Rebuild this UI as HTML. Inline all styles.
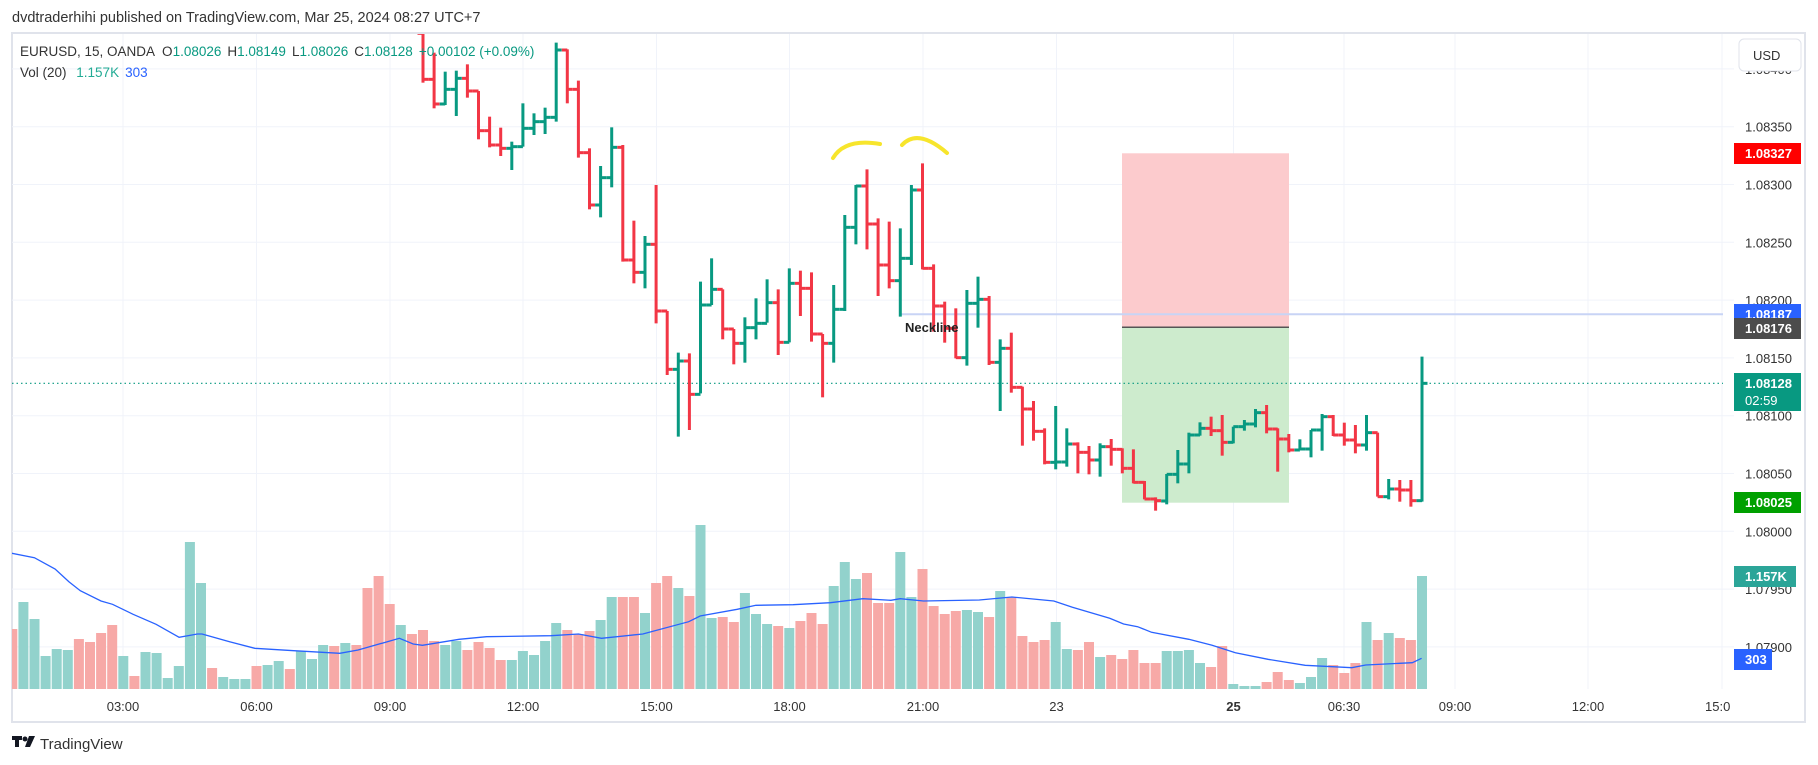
<!DOCTYPE html>
<html><head><meta charset="utf-8"><style>
html,body{margin:0;padding:0;background:#fff;width:1818px;height:765px;overflow:hidden;font-family:"Liberation Sans",sans-serif}
svg{display:block}
</style></head><body>
<svg id="s" width="1818" height="765" xmlns="http://www.w3.org/2000/svg" font-family="Liberation Sans, sans-serif">
<defs><clipPath id="c"><rect x="12" y="34" width="1711" height="655"/></clipPath></defs>
<rect x="12" y="33" width="1793" height="689" fill="none" stroke="#e0e3eb" stroke-width="2"/>
<text x="12" y="22" font-size="14.5" fill="#333">dvdtraderhihi published on TradingView.com, Mar 25, 2024 08:27 UTC+7</text>
<g id="grid"></g>
<g id="vol" clip-path="url(#c)"></g>
<g clip-path="url(#c)">
<rect x="1122" y="153.3" width="167" height="174" fill="#fccbcd"/>
<rect x="1122" y="327.3" width="167" height="175.4" fill="#cdebcd"/>
<line x1="1122" y1="327.3" x2="1289" y2="327.3" stroke="#555" stroke-width="1.5"/>
<line x1="900" y1="314.3" x2="1734" y2="314.3" stroke="#c8d4f5" stroke-width="2"/>
<line x1="12" y1="383.3" x2="1734" y2="383.3" stroke="#089981" stroke-width="1.2" stroke-dasharray="1.5 3"/>
<path d="M833 158 Q845 138 880 144" fill="none" stroke="#f7e52c" stroke-width="4" stroke-linecap="round"/>
<path d="M902 145 Q918 128 947 153" fill="none" stroke="#f7e52c" stroke-width="4" stroke-linecap="round"/>
<g id="bars"></g>
<text x="905" y="332" font-size="13" fill="#222" font-weight="bold">Neckline</text>
<polyline id="ma" fill="none" stroke="#2962ff" stroke-width="1.3"/>
</g>
<g id="axis" font-size="13" fill="#333"></g>
<g font-size="13" fill="#fff" font-weight="bold">
<rect x="1734" y="143" width="67" height="21" fill="#ff0000"/><text x="1745" y="158">1.08327</text>
<rect x="1734" y="304" width="67" height="21" fill="#2962ff"/><text x="1745" y="319">1.08187</text>
<rect x="1734" y="318" width="67" height="21" fill="#4c4c4c"/><text x="1745" y="333">1.08176</text>
<rect x="1734" y="373" width="67" height="38" fill="#089981"/><text x="1745" y="388">1.08128</text><text x="1745" y="405" font-weight="normal">02:59</text>
<rect x="1734" y="492" width="67" height="21" fill="#00a000"/><text x="1745" y="507">1.08025</text>
<rect x="1734" y="566" width="62" height="21" fill="#2ba598"/><text x="1745" y="581">1.157K</text>
<rect x="1734" y="649" width="38" height="21" fill="#2962ff"/><text x="1745" y="664">303</text>
</g>
<rect x="1739" y="39" width="62" height="32" rx="5" fill="#fff" stroke="#e0e3eb"/>
<text x="1753" y="60" font-size="13" fill="#333">USD</text>
<text x="20" y="56" font-size="13.5" fill="#333">EURUSD, 15, OANDA <tspan dx="4">O</tspan><tspan fill="#089981">1.08026</tspan><tspan dx="6">H</tspan><tspan fill="#089981">1.08149</tspan><tspan dx="6">L</tspan><tspan fill="#089981">1.08026</tspan><tspan dx="6">C</tspan><tspan fill="#089981">1.08128</tspan><tspan dx="6" fill="#089981">+0.00102 (+0.09%)</tspan></text>
<text x="20" y="77" font-size="13.5" fill="#333">Vol (20) <tspan dx="6" fill="#22ab94">1.157K</tspan><tspan dx="6" fill="#2962ff">303</tspan></text>
<g transform="translate(12,736)"><rect x="0" y="0" width="10" height="4" fill="#131722"/><rect x="3" y="0" width="4" height="11" fill="#131722"/><circle cx="13" cy="3" r="2.5" fill="#131722"/><path d="M17 0 L23 0 L18 11 L13 11 Z" fill="#131722"/></g>
<text x="40" y="749" font-size="15" fill="#333">TradingView</text>
</svg>
<script>
var NS="http://www.w3.org/2000/svg";
function el(p,t,a){var e=document.createElementNS(NS,t);for(var k in a)e.setAttribute(k,a[k]);p.appendChild(e);return e;}
function Y(p){return 126.7+(1.0835-p)*115600;}
var grid=document.getElementById('grid'),axis=document.getElementById('axis');
var prices=[1.0840,1.0835,1.0830,1.0825,1.0820,1.0815,1.0810,1.0805,1.0800,1.0795,1.0790];
prices.forEach(function(p){var y=Y(p);el(grid,'line',{x1:12,x2:1734,y1:y,y2:y,stroke:'#f0f3fa','stroke-width':1});
var t=el(axis,'text',{x:1745,y:y+5});t.textContent=p.toFixed(5);});
var vx=[[123,'03:00'],[256.5,'06:00'],[390,'09:00'],[523,'12:00'],[656.5,'15:00'],[789.5,'18:00'],[923,'21:00'],[1056.5,'23'],[1233.5,'25'],[1344,'06:30'],[1455,'09:00'],[1588,'12:00'],[1722,'15:00']];
vx.forEach(function(v){el(grid,'line',{x1:v[0],x2:v[0],y1:34,y2:689,stroke:'#f0f3fa','stroke-width':1});
var t=el(axis,'text',{x:v[0],y:711,'text-anchor':v[1]=='15:00'&&v[0]>1700?'start':'middle'});if(v[0]>1700){t.setAttribute('x',1705);t.textContent='15:0';}else t.textContent=v[1];if(v[1]=='25')t.setAttribute('font-weight','bold');});
function cx(i){return 12.3+i*11.1;}
var v6=[['r',327],['g',246],['g',297],['g',408],['g',387],['g',390],['r',357],['r',366],['r',339],['r',315],['g',408],['r',468],['g',396],['g',399],['g',474],['g',438],['g',66],['g',189],['r',444],['g',471],['g',477],['g',477],['r',438],['g',435],['g',423],['r',447],['g',393],['g',417],['g',375],['r',378],['g',369],['r',375],['r',204],['r',168],['r',252],['g',315],['r',342],['r',330],['r',363],['g',375],['g',363],['r',390],['r',366],['r',384],['r',420],['g',420],['g',393],['g',405],['g',363],['g',309],['r',330],['r',342],['r',333],['g',300],['g',231],['r',231],['r',231],['g',279],['r',189],['r',168],['g',204],['r',228],['g',15]];
var v7="g294 r291 r306 g219 g282 g312 r318 g324 r303 r279 r312 g198 g126 g177 r159 r249 r249 g96 g231 r147 r258 r282 r273 g270 g276 r291 g213 r231 r348 r366 r360 g306 g387 r390 r366 g411 r405 r417 r390 r429 r429 g393 g393 g390 g429 r441 r378 g492 g498 g498 r486 r456 r480 g489 g471 g414 r435 r459 r429 g306 r360 g339 r354 r360 g168".split(' ').map(function(s){return [s[0],+s.slice(1)];});
var vol=v6.concat(v7),vg=document.getElementById('vol');
vol.forEach(function(v,i){var top=520+v[1]/3;el(vg,'rect',{x:cx(i)-5,y:top,width:10,height:689-top,fill:v[0]=='g'?'#92d2cc':'#f7a9a7'});});
var m6=[[26,100],[75,113],[120,147],[150,185],[175,212],[220,243],[245,253],[290,283],[340,313],[390,352],[430,342],[440,342],[500,365],[555,385],[640,392],[740,400],[780,390],[870,355],[900,372],[920,376],[1000,358],[1060,350],[1200,347],[1260,342],[1310,355],[1400,342],[1500,305],[1525,288]];
var m7=[[0,288],[80,268],[120,256],[200,254],[280,248],[350,236],[410,241],[430,236],[480,243],[600,240],[670,231],[760,243],[800,262],[880,295],[910,312],[940,320],[970,337],[1050,358],[1100,376],[1150,398],[1220,418],[1300,436],[1400,443],[1430,435],[1530,428],[1550,415]];
var pts=m6.map(function(p){return (p[0]/2.178).toFixed(1)+','+(520+p[1]/3).toFixed(1);}).concat(m7.map(function(p){return (700+p[0]/2.148).toFixed(1)+','+(520+p[1]/3).toFixed(1);}));
document.getElementById('ma').setAttribute('points',pts.join(' '));
var z3=[[10,158,10,148],[68,235,148,222],[125,225,222,178],[122,258,178,145],[103,203,145,183],[183,328,183,302],[260,352,302,345],[293,378,345,355],[335,420,355,350],[220,350,350,295],[250,315,295,275],[233,312,275,262],[38,275,262,60],[58,220,60,178],[152,383,178,368],[355,538,368,525],[408,562,525,443],[292,472,443,352],[345,695,352,690],[572,760,690,727],[618,775,727,643],[465,880,643,843],[843,1035,843,1018],[968,1220,1018,993],[970,1200,993,1093],[755,1090,1093,825],[685,825,825,778],[778,928,778,897],[897,1003,897,940],[862,998,940,893],[805,928,893,880],[748,878,880,818],[778,975,818,937],[715,937,937,760],[722,858,760,775],[727,935,775,912],[912,1102,912,940],[765,998,940,838],[555,843,838,592],[465,643,592,468],[418,658,468,582],[565,798,582,705],[575,775,705,752],[595,860,752,685]];
var z4=[[165,405,385,180],[100,418,180,415],[403,605,415,528],[515,638,528,595],[535,685,595,683],[480,707,683,520],[440,593,520,508],[498,705,508,697],[628,843,697,655],[608,788,655,772]];
var z5=[[290,467,292,357],[333,452,357,424],[415,523,424,517],[348,538,517,516],[415,530,516,462],[457,550,462,487],[468,553,487,510],[460,560,510,470],[447,527,470,478],[475,550,478,535],[478,580,535,577],[573,628,577,627],[622,662,627,632],[552,643,633,553],[480,580,553,522],[428,550,522,435],[397,437,435,415],[380,438,415,422],[375,497,422,457],[410,460,457,410],[390,422,410,402],[357,412,402,368],[345,430,368,417],[415,545,417,447],[432,487,447,480],[448,480,480,477],[420,502,477,420],[372,482,420,380],[375,438,380,435],[398,467,435,450],[405,490,450,465],[375,482,465,428],[428,620,428,620],[567,628,620,597],[570,635,597,600],[570,650,600,632],[200,635,632,280]];
var bars=[];
z3.forEach(function(b){bars.push(b.map(function(v){return 30+v/3;}));});
z4.forEach(function(b){bars.push(b.map(function(v){return 130+v/3;}));});
z5.forEach(function(b){bars.push(b.map(function(v){return 290+v/3;}));});
var bg=document.getElementById('bars');
bars.forEach(function(b,k){var i=37+k,x=cx(i),c=b[3]<b[2]?'#089981':'#f23645';
el(bg,'line',{x1:x,x2:x,y1:b[0],y2:b[1],stroke:c,'stroke-width':3});
el(bg,'line',{x1:x-5.5,x2:x,y1:b[2],y2:b[2],stroke:c,'stroke-width':3});
el(bg,'line',{x1:x,x2:x+5.5,y1:b[3],y2:b[3],stroke:c,'stroke-width':3});});
</script>
</body></html>
